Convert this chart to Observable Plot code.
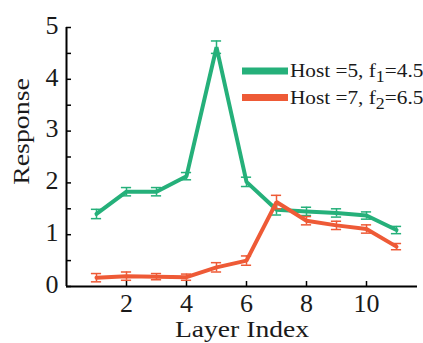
<!DOCTYPE html>
<html><head><meta charset="utf-8">
<script src="https://cdn.jsdelivr.net/npm/d3@7"></script>
<script src="https://cdn.jsdelivr.net/npm/@observablehq/plot@0.6"></script>
<style>body{margin:0;background:#fff;} #chart{position:relative;width:423px;height:343px;}
svg text{font-family:"Liberation Serif","Times New Roman",Times,serif;}</style>
</head><body><div id="chart"></div>
<script>
// ---- data ----
const layers = [1, 2, 3, 4, 5, 6, 7, 8, 9, 10, 11];
const host5 = [1.40, 1.83, 1.83, 2.13, 4.62, 2.02, 1.48, 1.45, 1.42, 1.37, 1.09];
const host5Err = [0.09, 0.08, 0.08, 0.07, 0.12, 0.09, 0.10, 0.08, 0.08, 0.07, 0.07];
const host7 = [0.17, 0.20, 0.19, 0.18, 0.37, 0.50, 1.63, 1.27, 1.18, 1.11, 0.77];
const host7Err = [0.08, 0.08, 0.06, 0.06, 0.09, 0.09, 0.13, 0.08, 0.08, 0.08, 0.06];
const seriesColors = ["#25b07a", "#ee5a36"];
const legendPre = ["Host =5, f", "Host =7, f"];
const legendSub = ["1", "2"];
const legendPost = ["=4.5", "=6.5"];
const xTickLabels = [2, 4, 6, 8, 10];
const yTickLabels = [0, 1, 2, 3, 4, 5];
const yMinorTicks = [0, 0.5, 1, 1.5, 2, 2.5, 3, 3.5, 4, 4.5, 5];
const xTitle = "Layer Index";
const yTitle = "Response";

const series = [host5, host7].map((vals, s) =>
  layers.map((x, i) => ({x, y: vals[i], e: [host5Err, host7Err][s][i], s}))
);
const font = "Liberation Serif";

const marks = [];
series.forEach((d, s) => {
  const c = seriesColors[s];
  marks.push(Plot.line(d, {x: "x", y: "y", stroke: c, strokeWidth: 4, strokeLinejoin: "miter"}));
  marks.push(Plot.ruleX(d, {x: "x", y1: r => r.y - r.e, y2: r => r.y + r.e, stroke: c, strokeWidth: 1.5}));
  marks.push(Plot.ruleY(d, {y: r => r.y + r.e, x1: r => r.x - 0.17, x2: r => r.x + 0.17, stroke: c, strokeWidth: 1.5}));
  marks.push(Plot.ruleY(d, {y: r => r.y - r.e, x1: r => r.x - 0.17, x2: r => r.x + 0.17, stroke: c, strokeWidth: 1.5}));
});
// axes
marks.push(Plot.axisY(yMinorTicks, {tickSize: -5, text: null, stroke: "#000", strokeWidth: 1.5, label: null}));
marks.push(Plot.axisY(yTickLabels, {tickSize: 0, tickPadding: 8, dy: -2, fontSize: 26, fill: "#1a1a1a", label: null, tickFormat: d => String(d)}));
marks.push(Plot.axisX(xTickLabels, {tickSize: -5, text: null, stroke: "#000", strokeWidth: 1.5, label: null}));
marks.push(Plot.axisX(xTickLabels, {tickSize: 0, tickPadding: 7, fontSize: 26, fill: "#1a1a1a", label: null, tickFormat: d => String(d)}));
marks.push(Plot.ruleX([0], {y1: 0, y2: 5, stroke: "#000", strokeWidth: 2}));
marks.push(Plot.ruleY([0], {stroke: "#000", strokeWidth: 2}));

const svg = Plot.plot({
  width: 423, height: 343,
  marginLeft: 66, marginRight: 6, marginTop: 27, marginBottom: 57,
  style: {fontFamily: font, background: "#fff", overflow: "visible"},
  x: {domain: [0, 11.7]},
  y: {domain: [0, 5]},
  marks
});
document.getElementById("chart").appendChild(svg);

const g = d3.select(svg).append("g").attr("fill", "#1a1a1a");
g.append("text").attr("transform", "translate(242,337) scale(1.15,1)").attr("text-anchor", "middle")
  .attr("font-size", 24).text(xTitle);
g.append("text").attr("transform", "translate(29,131.5) rotate(-90) scale(1.16,1)").attr("text-anchor", "middle")
  .attr("font-size", 24).text(yTitle);

// legend
const rowsY = [71, 97.5];
legendPre.forEach((pre, i) => {
  g.append("line").attr("x1", 242).attr("x2", 288).attr("y1", rowsY[i]).attr("y2", rowsY[i])
    .attr("stroke", seriesColors[i]).attr("stroke-width", 7);
  const t = g.append("text").attr("text-anchor", "start")
    .attr("transform", `translate(290,${rowsY[i] + 6}) scale(1.12,1)`).attr("font-size", 19);
  t.append("tspan").text(pre);
  t.append("tspan").attr("dy", 5).attr("font-size", 16).text(legendSub[i]);
  t.append("tspan").attr("dy", -5).text(legendPost[i]);
});
</script>
</body></html>
